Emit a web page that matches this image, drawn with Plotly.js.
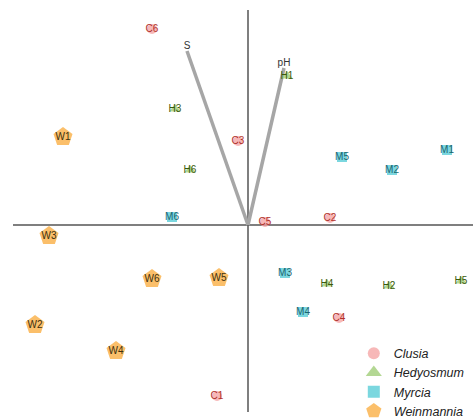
<!DOCTYPE html>
<html>
<head>
<meta charset="utf-8">
<script src="https://cdn.plot.ly/plotly-3.0.1.min.js"></script>
<style>html,body{margin:0;padding:0;background:#fff;overflow:hidden;}#chart{width:473px;height:420px;}</style>
</head>
<body>
<div id="chart"></div>
<script>
// Site scores (PC1, PC2)
const clusiaLabels = ["C1","C2","C3","C4","C5","C6"];
const clusiaX = [-0.31, 0.82, -0.10, 0.91, 0.17, -0.96];
const clusiaY = [-1.71, 0.07, 0.84, -0.93, 0.03, 1.96];

const hedyLabels = ["H1","H2","H3","H4","H5","H6"];
const hedyX = [0.39, 1.41, -0.73, 0.79, 2.13, -0.58];
const hedyY = [1.49, -0.61, 1.16, -0.59, -0.56, 0.55];

const myrciaLabels = ["M1","M2","M3","M4","M5","M6"];
const myrciaX = [1.99, 1.44, 0.37, 0.55, 0.94, -0.76];
const myrciaY = [0.75, 0.55, -0.48, -0.87, 0.68, 0.08];

const weinLabels = ["W1","W2","W3","W4","W5","W6"];
const weinX = [-1.85, -2.13, -1.99, -1.32, -0.29, -0.96];
const weinY = [0.88, -1.00, -0.11, -1.26, -0.53, -0.54];

// Environmental vectors
const vecLabels = ["S","pH"];
const vecX = [-0.61, 0.36];
const vecY = [1.74, 1.57];

const groups = [
  {name:"Clusia", x:clusiaX, y:clusiaY, t:clusiaLabels, sym:"circle", col:"rgba(244,160,160,0.75)", tc:"#b0302a", size:10},
  {name:"Hedyosmum", x:hedyX, y:hedyY, t:hedyLabels, sym:"triangle-up", col:"rgba(160,205,120,0.8)", tc:"#3a5a0c", size:10},
  {name:"Myrcia", x:myrciaX, y:myrciaY, t:myrciaLabels, sym:"square", col:"rgba(90,205,215,0.8)", tc:"#1a6570", size:10},
  {name:"Weinmannia", x:weinX, y:weinY, t:weinLabels, sym:"pentagon", col:"rgba(250,180,80,0.85)", tc:"#40300e", size:20}
];

const traces = [];
for (let i = 0; i < vecLabels.length; i++) {
  traces.push({x:[0, vecX[i]], y:[0, vecY[i]], mode:"lines", line:{color:"#a6a6a6", width:3.5}, showlegend:false, hoverinfo:"skip"});
}
traces.push({x:vecX, y:vecY, text:vecLabels, mode:"text", textposition:"top center",
  textfont:{family:"Liberation Sans, Arial", size:10, color:"#333"}, showlegend:false, hoverinfo:"skip"});

groups.forEach(g => {
  traces.push({
    x:g.x, y:g.y, text:g.t, name:g.name, mode:"markers+text", textposition:"middle center",
    marker:{symbol:g.sym, color:g.col, size:g.size, line:{width:0}},
    textfont:{family:"Liberation Sans, Arial", size:10, color:g.tc},
    showlegend:false
  });
});
const legSizes = [12, 14, 12, 18];
groups.forEach((g, i) => {
  traces.push({x:[null], y:[null], name:g.name, mode:"markers",
    marker:{symbol:g.sym, color:g.col, size:legSizes[i], line:{width:0}}, showlegend:true});
});

const layout = {
  width:473, height:420,
  margin:{l:0, r:0, t:0, b:0, autoexpand:false},
  paper_bgcolor:"#fff", plot_bgcolor:"#fff",
  xaxis:{range:[-2.48, 2.25], visible:false},
  yaxis:{range:[-1.95, 2.25], visible:false},
  shapes:[
    {type:"line", x0:-2.35, x1:2.25, y0:0, y1:0, line:{color:"#555", width:1.5}, layer:"below"},
    {type:"line", x0:0, x1:0, y0:2.15, y1:-1.87, line:{color:"#555", width:1.5}, layer:"below"}
  ],
  legend:{x:0.748, y:0.194, xanchor:"left", yanchor:"top", bgcolor:"rgba(0,0,0,0)",
    font:{family:"Liberation Sans, Arial", size:12.5, color:"#222", style:"italic"},
    itemsizing:"trace", tracegroupgap:0},
  showlegend:true
};

Plotly.newPlot("chart", traces, layout, {displayModeBar:false, staticPlot:true});
</script>
</body>
</html>
